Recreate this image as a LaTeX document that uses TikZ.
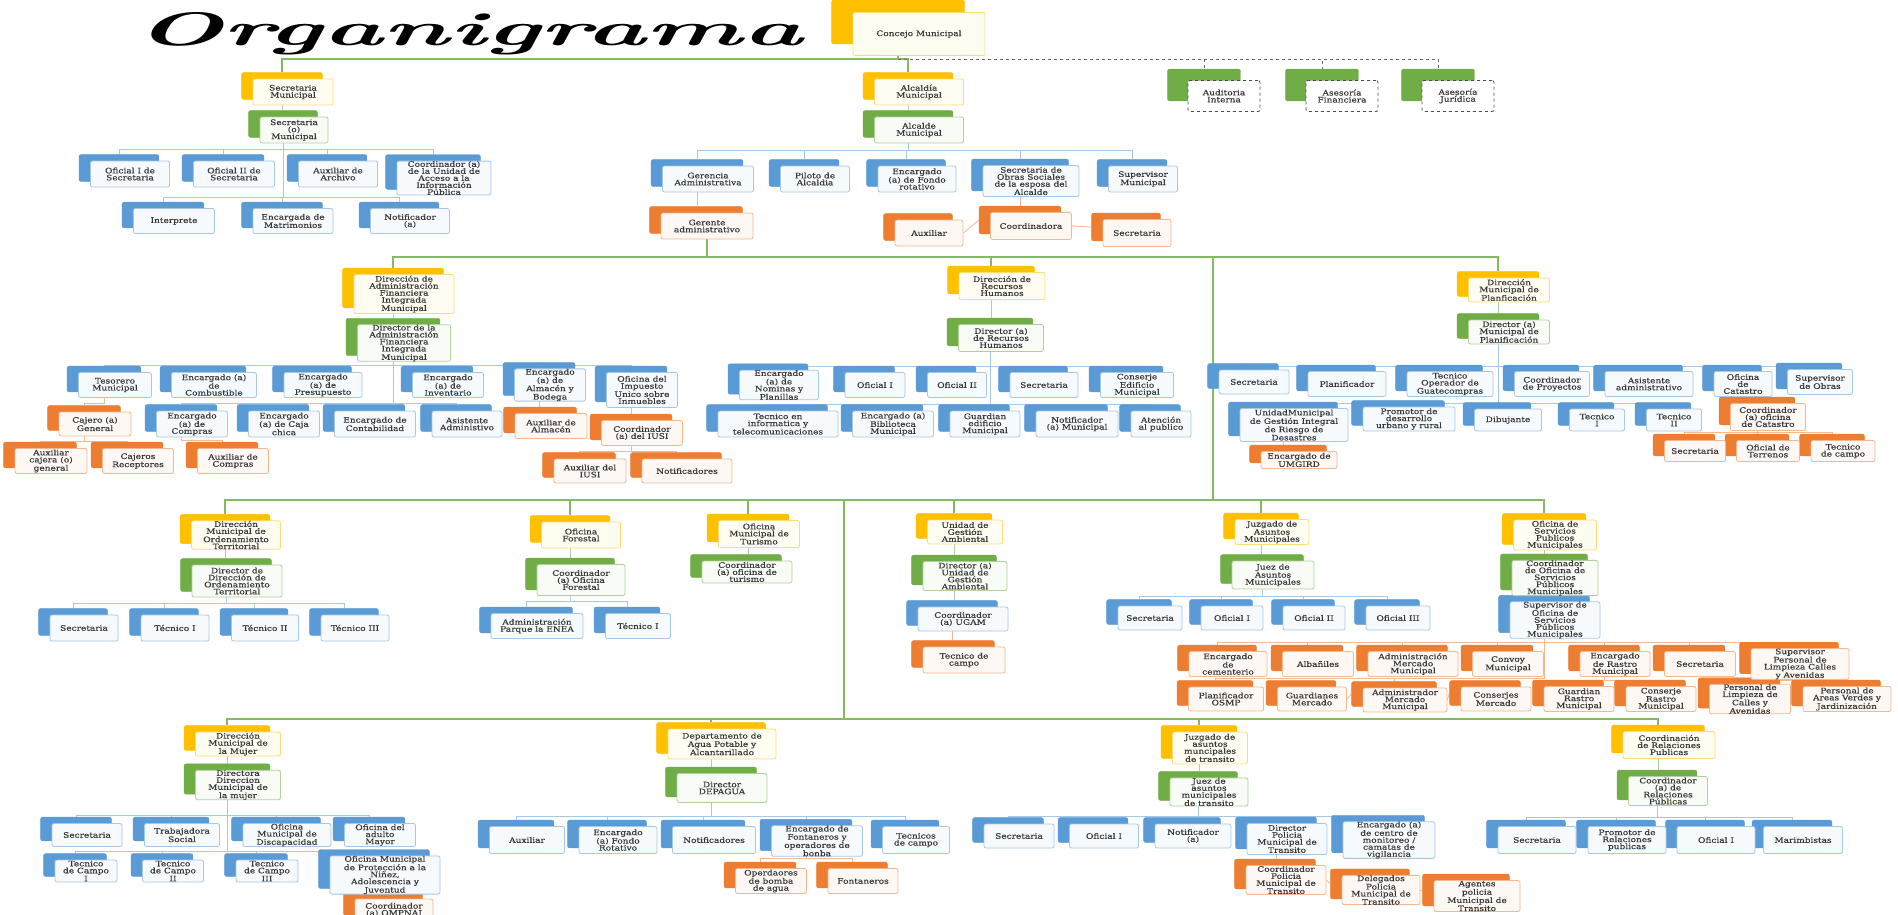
\documentclass[tikz,border=0pt]{standalone}
\usepackage{fontspec}
\usepackage{tikz}
\usetikzlibrary{fit}
\usetikzlibrary{backgrounds}
\pgfdeclarelayer{tabs}
\pgfsetlayers{background,tabs,main}
\newfontfamily\orgfont{DejaVu Serif}[FakeStretch=1.2, FakeBold=0.4]

\definecolor{gold}{HTML}{FFC000}
\definecolor{leaf}{HTML}{70AD47}
\definecolor{sky}{HTML}{5B9BD5}
\definecolor{ember}{HTML}{ED7D31}
\definecolor{ink}{HTML}{383838}

\tikzset{
  box/.style={rectangle, rounded corners=2pt, inner xsep=1pt, inner ysep=0pt,
    minimum height=25, align=center, font=\orgfont\fontsize{7.5}{7}\selectfont},
  tab/.style={rectangle, rounded corners=2pt, fill=#1, draw=#1, inner sep=0pt},
  card/.style={box, fill=#1!5, draw=#1!55, line width=0.8pt, text=ink},
  adv/.style={box, fill=white, draw=black!70, dashed, line width=0.9pt, text=ink},
  trunk/.style={draw=leaf!85, line width=1.5pt},
  link/.style={draw=leaf!55, line width=0.8pt},
  bline/.style={draw=sky!55, line width=1pt},
  oline/.style={draw=ember!55, line width=0.8pt},
  dline/.style={draw=black!60, dashed, line width=0.9pt}
}

% card with the text, coloured tab behind it (up and to the left)
\newcommand{\ob}[6][]{%
  \node[card=#5, minimum width=#4, #1] (#2-c) at (#3) {#6};
  \begin{pgfonlayer}{tabs}
    \node[tab=#5, fit=(#2-c), xshift=-11pt, yshift=6pt] (#2) {};
  \end{pgfonlayer}
}
% parent to a row of children
\newcommand{\rowlinks}[4][bline]{%
  \foreach \kid in {#4}{\draw[#1] (#2.south) -- (#2.south |- 0,#3) -| (\kid.north);}
}

\begin{document}
\begin{tikzpicture}[x=1pt, y=-1pt]
    \useasboundingbox (0,0) rectangle (1898,914);

    \node[anchor=base west, inner sep=0] (titulo) at (135,45)
      {\resizebox{667pt}{33pt}{\bfseries\itshape Organigrama}};

    % concejo y asesorias
    \node[card=gold, minimum width=132, minimum height=43] (concejo-c) at (919,34) {Concejo Municipal};
    \begin{pgfonlayer}{tabs}
      \node[tab=gold, fit=(concejo-c), xshift=-21pt, yshift=12pt] (concejo) {};
    \end{pgfonlayer}
    \foreach \n/\x/\t in {aud/1224/Auditoria\\Interna, asefin/1342/Asesoría\\Financiera, asejur/1458/Asesoría\\Jurídica}{
      \node[adv, minimum width=72, minimum height=31] (\n-c) at (\x,96) {\t};
      \begin{pgfonlayer}{tabs}
        \node[tab=leaf, fit=(\n-c), xshift=-20pt, yshift=11pt] (\n) {};
      \end{pgfonlayer}
    }

    % secretaria
    \ob[minimum height=26]{secmun}{293,92}{80}{gold}{Secretaria\\Municipal}
    \ob[minimum height=26]{secom}{294,130}{68}{leaf}{Secretaria\\(o)\\Municipal}
    \ob[minimum height=26]{ofs1}{130,174}{79}{sky}{Oficial I de\\Secretaria}
    \ob[minimum height=26]{ofs2}{234,174}{81}{sky}{Oficial II de\\Secretaria}
    \ob[minimum height=26]{auxarc}{338,174}{79}{sky}{Auxiliar de\\Archivo}
    \ob[minimum height=32]{coorai}{444,178}{94}{sky}{Coordinador (a)\\de la Unidad de\\Acceso a la\\Información\\Pública}
    \ob{interp}{174,221}{81}{sky}{Interprete}
    \ob{matri}{293,221}{80}{sky}{Encargada de\\Matrimonios}
    \ob{notif}{410,221}{79}{sky}{Notificador\\(a)}

    % alcaldia
    \ob[minimum height=26]{alcaldia}{919,92}{89}{gold}{Alcaldía\\Municipal}
    \ob[minimum height=26]{alcalde}{919,130}{89}{leaf}{Alcalde\\Municipal}
    \ob[minimum height=26]{geren}{708,179}{91}{sky}{Gerencia\\Administrativa}
    \ob[minimum height=26]{piloto}{815,179}{69}{sky}{Piloto de\\Alcaldia}
    \ob[minimum height=26]{fondo}{917,179}{78}{sky}{Encargado\\(a) de Fondo\\rotativo}
    \ob[minimum height=31]{obras}{1031,181}{96}{sky}{Secretaria de\\Obras Sociales\\de la esposa del\\Alcalde}
    \ob[minimum height=26]{supmun}{1143,179}{69}{sky}{Supervisor\\Municipal}
    \ob[minimum height=26]{gerente}{707,226}{92}{ember}{Gerente\\administrativo}
    \ob[minimum height=26]{auxobr}{929,233}{68}{ember}{Auxiliar}
    \ob[minimum height=27]{coordobr}{1031,226}{81}{ember}{Coordinadora}
    \ob[minimum height=27]{secobr}{1137,233}{68}{ember}{Secretaria}

    % AFIM
    \ob[minimum height=39]{dafim}{404,294}{100}{gold}{Dirección de\\Administración\\Financiera\\Integrada\\Municipal}
    \ob[minimum height=34]{dirafim}{404,343}{93}{leaf}{Director de la\\Administración\\Financiera\\Integrada\\Municipal}
    \ob{teso}{115,385}{73}{sky}{Tesorero\\Municipal}
    \ob{combus}{214,385}{85}{sky}{Encargado (a)\\de\\Combustible}
    \ob{presu}{323,385}{78}{sky}{Encargado\\(a) de\\Presupuesto}
    \ob{inven}{448,385}{71}{sky}{Encargado\\(a) de\\Inventario}
    \ob{almac}{550,385}{71}{sky}{Encargado\\(a) de\\Almacén y\\Bodega}
    \ob[minimum height=35]{iusi}{642,390}{71}{sky}{Oficina del\\Impuesto\\Unico sobre\\Inmuebles}
    \ob[minimum height=26]{compras}{192,424}{71}{sky}{Encargado\\(a) de\\Compras}
    \ob[minimum height=26]{caja}{284,424}{71}{sky}{Encargado\\(a) de Caja\\chica}
    \ob[minimum height=26]{conta}{375,424}{81}{sky}{Encargado de\\Contabilidad}
    \ob[minimum height=26]{asist}{467,424}{70}{sky}{Asistente\\Administivo}
    \ob[minimum height=24]{cajero}{95,424}{72}{ember}{Cajero (a)\\General}
    \ob{auxcaj}{51,461}{72}{ember}{Auxiliar\\cajera (o)\\general}
    \ob{cajrec}{138,461}{71}{ember}{Cajeros\\Receptores}
    \ob{auxcom}{233,461}{71}{ember}{Auxiliar de\\Compras}
    \ob{auxalm}{551,426}{72}{ember}{Auxiliar de\\Almacén}
    \ob{coiusi}{642,433}{81}{ember}{Coordinador\\(a) del IUSI}
    \ob[minimum height=24]{auxiusi}{590,471}{72}{ember}{Auxiliar del\\IUSI}
    \ob[minimum height=24]{notifi}{687,471}{90}{ember}{Notificadores}

    % recursos humanos
    \ob[minimum height=27]{drh}{1002,286}{86}{gold}{Dirección de\\Recursos\\Humanos}
    \ob[minimum height=27]{dirrh}{1001,338}{85}{leaf}{Director (a)\\de Recursos\\Humanos}
    \ob{nomi}{779,385}{79}{sky}{Encargado\\(a) de\\Nominas y\\Planillas}
    \ob{rhof1}{875,385}{60}{sky}{Oficial I}
    \ob{rhof2}{957,385}{59}{sky}{Oficial II}
    \ob{rhsec}{1044,385}{68}{sky}{Secretaria}
    \ob{conser}{1137,385}{73}{sky}{Conserje\\Edificio\\Municipal}
    \ob[minimum height=26]{tecinf}{778,424}{120}{sky}{Tecnico en\\informatica y\\telecomunicaciones}
    \ob[minimum height=26]{biblio}{893,424}{81}{sky}{Encargado (a)\\Biblioteca\\Municipal}
    \ob[minimum height=26]{guaedi}{985,424}{70}{sky}{Guardian\\edificio\\Municipal}
    \ob[minimum height=26]{rhnot}{1077,424}{82}{sky}{Notificador\\(a) Municipal}
    \ob[minimum height=26]{atenc}{1161,424}{60}{sky}{Atención\\al publico}

    % planificacion
    \ob[minimum height=24]{dmp}{1509,290}{81}{gold}{Dirección\\Municipal de\\Planficación}
    \ob[minimum height=24]{dirmp}{1509,332}{81}{leaf}{Director (a)\\Municipal de\\Planificación}
    \ob[minimum height=24]{pisec}{1254,382}{70}{sky}{Secretaria}
    \ob{plani}{1347,384}{78}{sky}{Planificador}
    \ob{guate}{1450,384}{86}{sky}{Tecnico\\Operador de\\Guatecompras}
    \ob{coproy}{1552,384}{75}{sky}{Coordinador\\de Proyectos}
    \ob{asadm}{1649,384}{88}{sky}{Asistente\\administrativo}
    \ob{catas}{1743,384}{58}{sky}{Oficina\\de\\Catastro}
    \ob{supobr}{1820,382}{65}{sky}{Supervisor\\de Obras}
    \ob[minimum height=33]{umgird}{1294,425}{108}{sky}{UnidadMunicipal\\de Gestión Integral\\de Riesgo de\\Desastres}
    \ob[minimum height=24]{promo}{1409,419}{92}{sky}{Promotor de\\desarrollo\\urbano y rural}
    \ob[minimum height=22]{dibuj}{1508,420}{67}{sky}{Dibujante}
    \ob[minimum height=22]{tec1}{1597,420}{55}{sky}{Tecnico\\I}
    \ob[minimum height=22]{tec2}{1674,420}{55}{sky}{Tecnico\\II}
    \ob[minimum height=17]{encum}{1299,460}{76}{ember}{Encargado de\\UMGIRD}
    \ob[minimum height=27]{cocat}{1768,417}{75}{ember}{Coordinador\\(a) oficina\\de Catastro}
    \ob[minimum height=21]{cacsec}{1695,451}{61}{ember}{Secretaria}
    \ob[minimum height=21]{cacter}{1768,451}{63}{ember}{Oficial de\\Terrenos}
    \ob[minimum height=21]{caccam}{1843,451}{64}{ember}{Tecnico\\de campo}

    % ordenamiento, forestal, turismo, ambiental
    \ob[minimum height=27]{dmot}{236,535}{89}{gold}{Dirección\\Municipal de\\Ordenamiento\\Territorial}
    \ob[minimum height=32]{dirmot}{237,581}{90}{leaf}{Director de\\Dirección de\\Ordenamiento\\Territorial}
    \ob[minimum height=26]{motsec}{84,628}{68}{sky}{Secretaria}
    \ob[minimum height=26]{mott1}{175,628}{68}{sky}{Técnico I}
    \ob[minimum height=26]{mott2}{265,628}{67}{sky}{Técnico II}
    \ob[minimum height=26]{mott3}{355,628}{68}{sky}{Técnico III}
    \ob[minimum height=26]{ofor}{581,535}{79}{gold}{Oficina\\Forestal}
    \ob[minimum height=31]{coofor}{581,580}{88}{leaf}{Coordinador\\(a) Oficina\\Forestal}
    \ob{enea}{537,626}{92}{sky}{Administración\\Parque la ENEA}
    \ob{fortec}{638,626}{65}{sky}{Técnico I}
    \ob[minimum height=27]{otur}{759,534}{81}{gold}{Oficina\\Municipal de\\Turismo}
    \ob[minimum height=22]{cootur}{747,572}{90}{leaf}{Coordinador\\(a) oficina de\\turismo}
    \ob[minimum height=24]{uga}{965,532}{75}{gold}{Unidad de\\Gestión\\Ambiental}
    \ob[minimum height=29]{diruga}{965,576}{84}{leaf}{Director (a)\\Unidad de\\Gestión\\Ambiental}
    \ob[minimum height=24]{ugam}{963,619}{90}{sky}{Coordinador\\(a) UGAM}
    \ob[minimum height=26]{ugatec}{964,660}{82}{ember}{Tecnico de\\campo}

    % juzgado y servicios publicos
    \ob{jam}{1272,532}{74}{gold}{Juzgado de\\Asuntos\\Municipales}
    \ob[minimum height=28]{juez}{1273,575}{82}{leaf}{Juez de\\Asuntos\\Municipales}
    \ob[minimum height=24]{jamsec}{1150,618}{64}{sky}{Secretaria}
    \ob[minimum height=24]{jamof1}{1232,618}{62}{sky}{Oficial I}
    \ob[minimum height=24]{jamof2}{1314,618}{62}{sky}{Oficial II}
    \ob[minimum height=24]{jamof3}{1398,618}{64}{sky}{Oficial III}
    \ob[minimum height=30]{ospm}{1555,535}{83}{gold}{Oficina de\\Servicios\\Publicos\\Municipales}
    \ob[minimum height=35]{coospm}{1555,578}{86}{leaf}{Coordinador\\de Oficina de\\Servicios\\Públicos\\Municipales}
    \ob[minimum height=35]{supspm}{1555,620}{90}{sky}{Supervisor de\\Oficina de\\Servicios\\Públicos\\Municipales}
    \ob{cemen}{1228,664}{78}{ember}{Encargado\\de\\cementerio}
    \ob{alba}{1318,664}{71}{ember}{Albañiles}
    \ob{admer}{1413,664}{90}{ember}{Administración\\Mercado\\Municipal}
    \ob{convoy}{1508,664}{71}{ember}{Convoy\\Municipal}
    \ob{rastro}{1615,664}{70}{ember}{Encargado\\de Rastro\\Municipal}
    \ob{spmsec}{1700,664}{71}{ember}{Secretaria}
    \ob{suplim}{1800,664}{98}{ember}{Supervisor\\Personal de\\Limpieza Calles\\y Avenidas}
    \ob[minimum height=24]{planos}{1226,699}{75}{ember}{Planificador\\OSMP}
    \ob[minimum height=24]{guamer}{1312,699}{69}{ember}{Guardianes\\Mercado}
    \ob[minimum height=24]{admmer}{1405,700}{84}{ember}{Administrador\\Mercado\\Municipal}
    \ob[minimum height=24]{consmer}{1496,699}{70}{ember}{Conserjes\\Mercado}
    \ob{guaras}{1579,699}{70}{ember}{Guardian\\Rastro\\Municipal}
    \ob{conras}{1661,699}{70}{ember}{Conserje\\Rastro\\Municipal}
    \ob{perlim}{1750,699}{81}{ember}{Personal de\\Limpieza de\\Calles y\\Avenidas}
    \ob{perare}{1847,699}{88}{ember}{Personal de\\Areas Verdes y\\Jardinización}

    % mujer
    \ob[minimum height=24]{dmm}{238,744}{85}{gold}{Dirección\\Municipal de\\la Mujer}
    \ob[minimum height=29]{dirmm}{238,785}{85}{leaf}{Directora\\Direccion\\Municipal de\\la mujer}
    \ob[minimum height=23]{mmsec}{87,835}{70}{sky}{Secretaria}
    \ob[minimum height=23]{trab}{182,835}{75}{sky}{Trabajadora\\Social}
    \ob[minimum height=23]{disc}{287,835}{88}{sky}{Oficina\\Municipal de\\Discapacidad}
    \ob[minimum height=23]{adul}{380,835}{71}{sky}{Oficina del\\adulto\\Mayor}
    \ob[minimum height=22]{tcam1}{86,871}{62}{sky}{Tecnico\\de Campo\\I}
    \ob[minimum height=22]{tcam2}{173,871}{61}{sky}{Tecnico\\de Campo\\II}
    \ob[minimum height=22]{tcam3}{267,871}{62}{sky}{Tecnico\\de Campo\\III}
    \ob[minimum height=33]{ompna}{385,875}{110}{sky}{Oficina Municipal\\de Protección a la\\Niñez,\\Adolescencia y\\Juventud}
    \ob[minimum height=22]{coomp}{394,910}{78}{ember}{Coordinador\\(a) OMPNAJ}

    % agua potable
    \ob[minimum height=30]{depa}{722,744}{108}{gold}{Departamento de\\Agua Potable y\\Alcantarillado}
    \ob[minimum height=29]{dirdep}{722,788}{90}{leaf}{Director\\DEPAGUA}
    \ob[minimum height=27]{depaux}{527,840}{75}{sky}{Auxiliar}
    \ob[minimum height=27]{depfon}{618,840}{78}{sky}{Encargado\\(a) Fondo\\Rotativo}
    \ob[minimum height=27]{depnot}{714,840}{83}{sky}{Notificadores}
    \ob[minimum height=28]{encfon}{817,841}{91}{sky}{Encargado de\\Fontaneros y\\operadores de\\bonba}
    \ob[minimum height=27]{deptec}{916,840}{67}{sky}{Tecnicos\\de campo}
    \ob{opbom}{771,881}{71}{ember}{Operdaores\\de bomba\\de agua}
    \ob{fonta}{863,881}{70}{ember}{Fontaneros}

    % transito
    \ob[minimum height=32]{jat}{1210,748}{75}{gold}{Juzgado de\\asuntos\\muncipales\\de transito}
    \ob[minimum height=27]{juezt}{1209,792}{78}{leaf}{Juez de\\asuntos\\municipales\\de transito}
    \ob[minimum height=24]{jatsec}{1019,836}{70}{sky}{Secretaria}
    \ob[minimum height=24]{jatof1}{1104,836}{69}{sky}{Oficial I}
    \ob[minimum height=24]{jatnot}{1193,836}{76}{sky}{Notificador\\(a)}
    \ob[minimum height=31]{dirpol}{1287,839}{80}{sky}{Director\\Policia\\Municipal de\\Transito}
    \ob[minimum height=32]{monit}{1389,840}{92}{sky}{Encargado (a)\\de centro de\\monitoreo /\\camatas de\\vigilancia}
    \ob[minimum height=29]{coopol}{1286,880}{80}{ember}{Coordinador\\Policia\\Municipal de\\Transito}
    \ob[minimum height=29]{delpol}{1381,890}{78}{ember}{Delegados\\Policia\\Municipal de\\Transito}
    \ob[minimum height=31]{agepol}{1477,896}{86}{ember}{Agentes\\policia\\Municipal de\\Transito}

    % relaciones publicas
    \ob[minimum height=27]{crp}{1669,745}{92}{gold}{Coordinación\\de Relaciones\\Publicas}
    \ob[minimum height=29]{coorp}{1668,791}{79}{leaf}{Coordinador\\(a) de\\Relaciones\\Públicas}
    \ob[minimum height=27]{rpsec}{1537,840}{78}{sky}{Secretaria}
    \ob[minimum height=27]{rppro}{1627,840}{78}{sky}{Promotor de\\Relaciones\\publicas}
    \ob[minimum height=27]{rpof1}{1716,840}{78}{sky}{Oficial I}
    \ob[minimum height=27]{rpmar}{1803,840}{79}{sky}{Marimbistas}

    \coordinate (hub1) at (1213,257);
    \coordinate (hub2) at (1213,500);
    \coordinate (hub3) at (844,500);
    \coordinate (hub4) at (844,719);

    \begin{scope}[on background layer]
      \fill[white] (0,0) rectangle (1898,914);
      % trunks
      \draw[trunk] (concejo.south) -- (concejo.south |- 0,59);
      \draw[trunk] (secmun.north) |- (concejo.south |- 0,59) -| (alcaldia.north);
      \foreach \a in {aud,asefin,asejur}{\draw[dline] (concejo.south |- 0,59) -| (\a.north);}
      \foreach \k in {dafim,drh,dmp}{\draw[trunk] (gerente-c.south) |- (hub1) -| (\k.north);}
      \draw[trunk] (hub1) -- (hub2);
      \foreach \k in {dmot,ofor,otur,uga,jam,ospm}{\draw[trunk] (hub2) -| (\k.north);}
      \draw[trunk] (hub3) -- (hub4);
      \foreach \k in {dmm,depa,jat,crp}{\draw[trunk] (hub4) -| (\k.north);}
      % head to director
      \foreach \a/\b in {secmun/secom, alcaldia/alcalde, dafim/dirafim, drh/dirrh, dmp/dirmp,
          dmot/dirmot, ofor/coofor, otur/cootur, uga/diruga, jam/juez, ospm/coospm,
          coospm/supspm, dmm/dirmm, depa/dirdep, jat/juezt, crp/coorp}{
        \draw[link] (\a.south) -- (\a.south |- \b.north);}
      \draw[bline] (diruga.south) -- (diruga.south |- ugam.north);
      % rows
      \rowlinks{secom}{149}{ofs1,ofs2,auxarc,coorai}
      \rowlinks{secom}{197}{interp,matri,notif}
      \rowlinks{alcalde}{150}{geren,piloto,fondo,obras,supmun}
      \rowlinks{dirafim}{365}{teso,combus,presu,inven,almac,iusi}
      \rowlinks{dirafim}{403}{compras,caja,conta,asist}
      \rowlinks{dirrh}{366}{nomi,rhof1,rhof2,rhsec,conser}
      \rowlinks{dirrh}{404}{tecinf,biblio,guaedi,rhnot,atenc}
      \rowlinks{dirmp}{366}{pisec,plani,guate,coproy,asadm,catas,supobr}
      \rowlinks{dirmp}{403}{umgird,promo,dibuj,tec1,tec2}
      \rowlinks{dirmot}{603}{motsec,mott1,mott2,mott3}
      \rowlinks{coofor}{601}{enea,fortec}
      \rowlinks{juez}{596}{jamsec,jamof1,jamof2,jamof3}
      \rowlinks{dirmm}{815}{mmsec,trab,disc,adul}
      \rowlinks{dirmm}{851}{tcam1,tcam2,tcam3,ompna}
      \rowlinks{dirdep}{816}{depaux,depfon,depnot,encfon,deptec}
      \rowlinks{juezt}{816}{jatsec,jatof1,jatnot,dirpol,monit}
      \rowlinks{coorp}{817}{rpsec,rppro,rpof1,rpmar}
      % orange branches
      \rowlinks[oline]{teso}{403}{cajero}
      \rowlinks[oline]{cajero}{441}{auxcaj,cajrec}
      \rowlinks[oline]{compras}{440}{auxcom}
      \rowlinks[oline]{coiusi}{451}{auxiusi,notifi}
      \rowlinks[oline]{catas}{398}{cocat}
      \rowlinks[oline]{cocat}{432}{cacsec,cacter,caccam}
      \rowlinks[oline]{supspm}{642}{cemen,alba,admer,convoy,rastro,spmsec,suplim}
      \rowlinks[oline]{supspm}{678}{planos,admmer}
      \rowlinks[oline]{rastro}{680}{guaras,conras}
      \rowlinks[oline]{suplim}{680}{perlim,perare}
      \rowlinks[oline]{encfon}{858}{opbom,fonta}
      \foreach \a/\b in {geren/gerente, obras/coordobr, almac/auxalm, iusi/coiusi,
          umgird/encum, ugam/ugatec, ompna/coomp, dirpol/coopol}{
        \draw[oline] (\a.south) -- (\a.south |- \b.north);}
      \draw[oline] (coordobr.west) -- (auxobr-c.east);
      \draw[oline] (coordobr-c.east) -- (secobr.west);
      \draw[oline] (guamer-c.east) -- (admmer.west);
      \draw[oline] (admmer-c.east) -- (consmer.west);
      \draw[oline] (coopol-c.east) -- (delpol.west);
      \draw[oline] (delpol-c.east) -- (agepol.west);
    \end{scope}
\end{tikzpicture}
\end{document}
